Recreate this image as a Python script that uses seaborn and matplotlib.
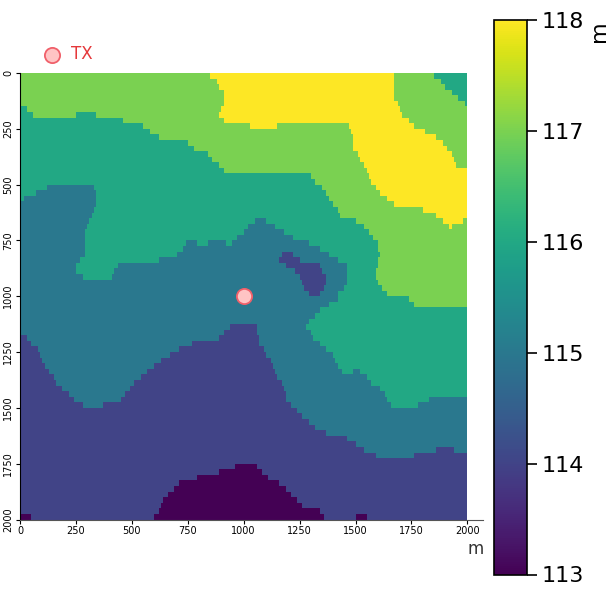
import numpy as np
import pandas as pd
import matplotlib
matplotlib.use('Agg')
import matplotlib.pyplot as plt
import seaborn as sns

# elevation bands read row by row from the map: (level in m, x where the band ends)
rows_top = [
    [(117,851),(118,1665),(117,1847),(116,2000)],
    [(117,878),(118,1665),(117,1875),(116,2000)],
    [(117,893),(118,1665),(117,1903),(116,2000)],
    [(117,911),(118,1665),(117,1930),(116,2000)],
    [(117,911),(118,1670),(117,1960),(116,2000)],
    [(117,905),(118,1685),(117,1987),(116,2000)],
    [(116,30),(117,896),(118,1700),(117,2000)],
    [(116,60),(117,250),(116,342),(117,893),(118,1714),(117,2000)],
    [(116,461),(117,911),(118,1740),(117,2000)],
    [(116,550),(117,1030),(118,1149),(117,1473),(118,1759),(117,2000)],
    [(116,580),(117,1481),(118,1806),(117,2000)],
    [(116,618),(117,1487),(118,1857),(117,2000)],
    [(116,754),(117,1491),(118,1885),(117,2000)],
    [(116,784),(117,1494),(118,1911),(117,2000)],
    [(116,838),(117,1509),(118,1933),(117,2000)],
    [(116,860),(117,1521),(118,1937),(117,2000)],
    [(116,888),(117,1536),(118,1948),(117,2000)],
    [(116,912),(117,1546),(118,2000)],
    [(116,1298),(117,1558),(118,2000)],
    [(116,1323),(117,1573),(118,2000)],
    [(116,123),(115,330),(116,1345),(117,1588),(118,2000)],
    [(116,74),(115,342),(116,1365),(117,1610),(118,2000)],
    [(116,18),(115,342),(116,1384),(117,1640),(118,2000)],
    [(115,336),(116,1402),(117,1670),(118,2000)],
    [(115,327),(116,1424),(117,1799),(118,2000)],
    [(115,317),(116,1432),(117,1857),(118,2000)],
    [(115,308),(116,1052),(115,1101),(116,1498),(117,1890),(118,1975),(117,2000)],
    [(115,298),(116,1022),(115,1137),(116,1536),(117,1915),(118,1930),(117,2000)],
    [(115,290),(116,1000),(115,1176),(116,1562),(117,2000)],
    [(115,290),(116,970),(115,1223),(116,1580),(117,2000)],
    [(115,290),(116,744),(115,789),(116,841),(115,922),(116,948),(115,1290),(116,1595),(117,2000)],
    [(115,290),(116,729),(115,1335),(116,1603),(117,2000)],
    [(115,290),(116,699),(115,1171),(114,1223),(115,1379),(116,1613),(117,2000)],
    [(115,265),(116,618),(115,1156),(114,1253),(115,1418),(116,1603),(117,2000)],
    [(115,246),(116,436),(115,1193),(114,1335),(115,1461),(116,1595),(117,2000)],
    [(115,249),(116,417),(115,1231),(114,1354),(115,1464),(116,1588),(117,2000)],
    [(115,275),(116,405),(115,1246),(114,1365),(115,1464),(116,1591),(117,2000)],
    [(115,1256),(114,1365),(115,1464),(116,1600),(117,2000)],
    [(115,1268),(114,1357),(115,1446),(116,1618),(117,2000)],
    [(115,1286),(114,1339),(115,1424),(116,1643),(117,2000)],
]
rows_bottom = [
    [(115,1424),(116,1737),(117,2000)],
    [(115,1379),(116,1759),(117,2000)],
    [(115,1339),(116,2000)],
    [(115,1315),(116,2000)],
    [(115,1293),(116,2000)],
    [(115,940),(114,1060),(115,1275),(116,2000)],
    [(115,911),(114,1064),(115,1295),(116,2000)],
    [(114,33),(115,885),(114,1067),(115,1312),(116,2000)],
    [(114,48),(115,766),(114,1068),(115,1339),(116,2000)],
    [(114,77),(115,711),(114,1089),(115,1372),(116,2000)],
    [(114,92),(115,665),(114,1104),(115,1396),(116,2000)],
    [(114,97),(115,629),(114,1116),(115,1412),(116,2000)],
    [(114,112),(115,598),(114,1131),(115,1424),(116,2000)],
    [(114,134),(115,573),(114,1141),(115,1436),(116,1494),(115,1524),(116,2000)],
    [(114,146),(115,539),(114,1153),(115,1548),(116,2000)],
    [(114,156),(115,513),(114,1167),(115,1573),(116,2000)],
    [(114,186),(115,491),(114,1179),(115,1613),(116,2000)],
    [(114,216),(115,473),(114,1186),(115,1632),(116,2000)],
    [(114,238),(115,446),(114,1193),(115,1644),(116,1826),(115,2000)],
    [(114,283),(115,372),(114,1213),(115,1662),(116,1778),(115,2000)],
    [(114,1238),(115,2000)],
    [(114,1263),(115,2000)],
    [(114,1287),(115,2000)],
    [(114,1320),(115,2000)],
    [(114,1365),(115,2000)],
    [(114,1463),(115,2000)],
    [(114,1496),(115,2000)],
    [(114,1543),(115,1860),(114,1940),(115,2000)],
    [(114,1588),(115,1759),(114,2000)],
    [(114,2000)],
    [(114,964),(113,1057),(114,2000)],
    [(114,893),(113,1082),(114,2000)],
    [(114,789),(113,1107),(114,2000)],
    [(114,714),(113,1156),(114,2000)],
    [(114,687),(113,1186),(114,2000)],
    [(114,662),(113,1211),(114,2000)],
    [(114,640),(113,1235),(114,2000)],
    [(114,629),(113,1260),(114,2000)],
    [(114,615),(113,1335),(114,2000)],
    [(113,52),(114,598),(113,1362),(114,1498),(113,1551),(114,2000)],
]
tick_m = [0, 250, 500, 750, 1000, 1250, 1500, 1750, 2000]
cbar_ticks = [113, 114, 115, 116, 117, 118]
tx_x = [1000]
tx_y = [1000]
tx_label = 'TX'

# cell sizes of the grid in m
dx = 10
dy = 25

x_centers = np.arange(dx / 2, 2000, dx)
grid = []
for row in rows_top + rows_bottom:
    levels = np.array([r[0] for r in row])
    ends = np.array([r[1] for r in row])
    grid.append(levels[np.minimum(np.searchsorted(ends, x_centers), len(ends) - 1)])
df = pd.DataFrame(grid)

W, H = 606, 594
fig = plt.figure(figsize=(W / 100, H / 100), dpi=100)
ax = fig.add_axes([20 / W, 1 - 519.5 / H, 463 / W, 446.5 / H])
cax = fig.add_axes([494 / W, 1 - 574.5 / H, 32.5 / W, 554.5 / H])

sns.heatmap(df, cmap='viridis', vmin=113, vmax=118, ax=ax, cbar_ax=cax,
            xticklabels=False, yticklabels=False, rasterized=True)

ax.set_xlim(0, 207)
ax.set_ylim(80, 0)
ax.set_xticks([t / dx for t in tick_m])
ax.set_xticklabels(tick_m, fontsize=7, rotation=0)
ax.set_yticks([t / dy for t in tick_m])
ax.set_yticklabels(tick_m, fontsize=7, rotation=90, va='center')
ax.tick_params(length=3, width=0.8, pad=2)
ax.set_xlabel('m', fontsize=12, color='#333333', loc='right')
ax.xaxis.set_label_coords(0.985, -0.045)
ax.set_ylabel('')
for s in ['top', 'right']:
    ax.spines[s].set_visible(False)
ax.spines['left'].set_visible(True)
ax.spines['left'].set_color('black')
ax.spines['bottom'].set_visible(True)
ax.spines['bottom'].set_color('#555555')

pts = pd.DataFrame({'x': [v / dx for v in tx_x], 'y': [v / dy for v in tx_y]})
sns.scatterplot(data=pts, x='x', y='y', ax=ax, s=120, color='#ffc4c4', edgecolor='#f0606a',
                linewidth=1.3, label=tx_label, zorder=5)
ax.set_xlabel('m', fontsize=12, color='#333333')
ax.xaxis.set_label_coords(0.985, -0.045)
ax.set_ylabel('')
ax.legend(frameon=False, loc='lower left', bbox_to_anchor=(0.012, 1.0), fontsize=12,
          labelcolor='#e5383b', handletextpad=0.1, borderaxespad=0.2)

cb = ax.collections[0].colorbar
cb.set_ticks(cbar_ticks)
cb.ax.tick_params(labelsize=16, length=7, width=1.2)
cb.outline.set_visible(True)
cb.outline.set_edgecolor('black')
cb.outline.set_linewidth(1.2)
cb.set_label('m', fontsize=16, loc='top', labelpad=4)

fig.savefig('out.png', dpi=100)
